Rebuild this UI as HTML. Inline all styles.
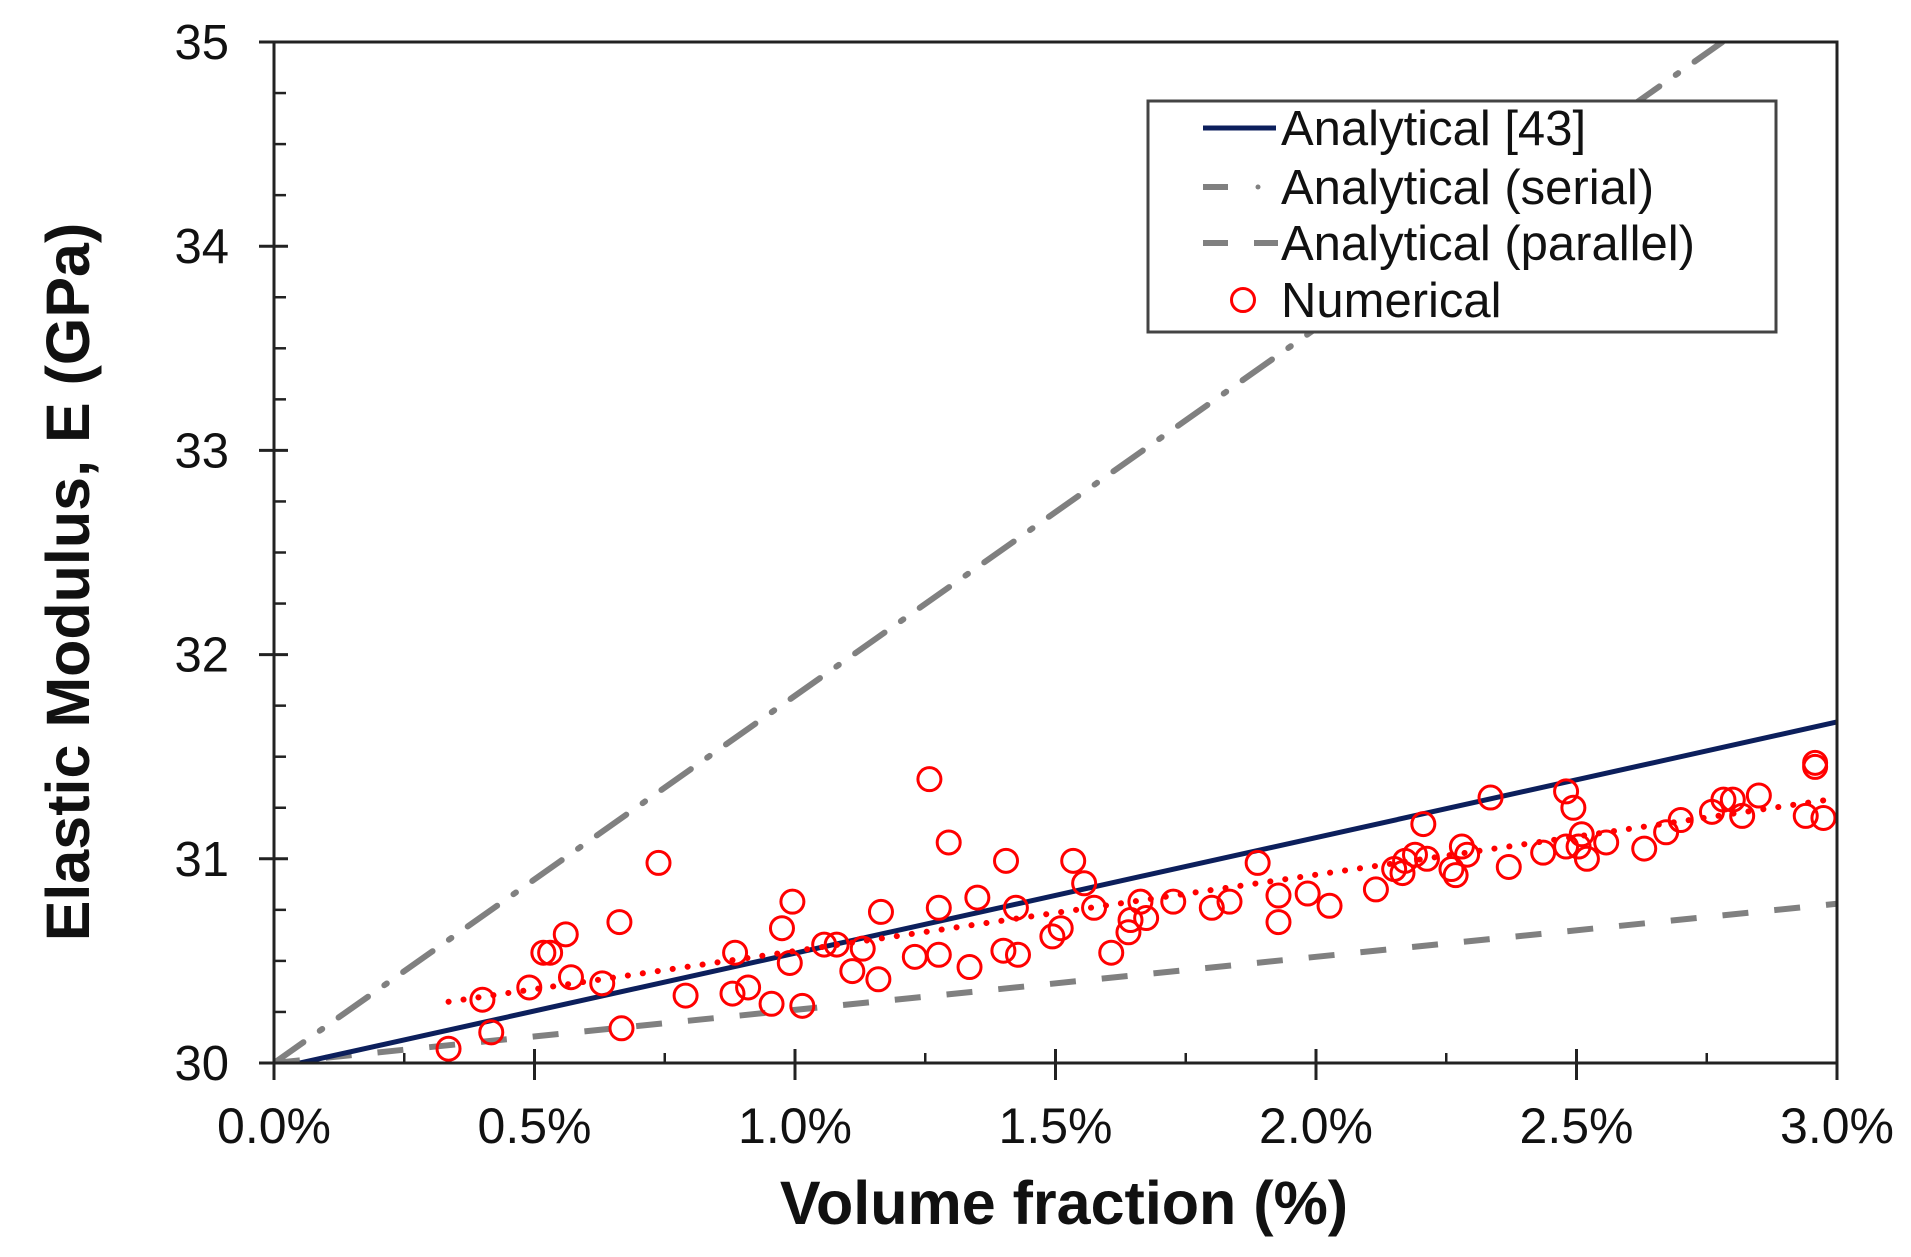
<!DOCTYPE html>
<html><head><meta charset="utf-8"><style>
html,body{margin:0;padding:0;background:#fff;}
svg{display:block;}
text{font-family:"Liberation Sans",Arial,sans-serif;}
</style></head><body>
<svg id="chart" width="1911" height="1257" viewBox="0 0 1911 1257" xmlns="http://www.w3.org/2000/svg">
<g id="plot"></g>
</svg>
<script>
const xTicks=[0,0.5,1.0,1.5,2.0,2.5,3.0];
const xTickLabels=["0.0%","0.5%","1.0%","1.5%","2.0%","2.5%","3.0%"];
const yTicks=[30,31,32,33,34,35];
const yTickLabels=["30","31","32","33","34","35"];
const numX=[0.335,0.40,0.417,0.49,0.517,0.53,0.56,0.57,0.63,0.663,0.667,0.738,0.79,0.885,0.88,0.91,0.955,0.975,0.99,0.995,1.014,1.056,1.08,1.11,1.13,1.16,1.165,1.23,1.258,1.276,1.276,1.295,1.335,1.35,1.40,1.405,1.424,1.428,1.494,1.51,1.534,1.555,1.574,1.607,1.64,1.644,1.663,1.674,1.726,1.80,1.834,1.888,1.928,1.928,1.984,2.026,2.115,2.15,2.166,2.171,2.19,2.206,2.213,2.26,2.268,2.28,2.29,2.335,2.37,2.436,2.48,2.48,2.494,2.504,2.51,2.52,2.557,2.63,2.672,2.70,2.76,2.782,2.80,2.818,2.85,2.94,2.958,2.958,2.974];
const numY=[30.07,30.31,30.15,30.37,30.54,30.54,30.63,30.42,30.39,30.69,30.17,30.98,30.33,30.54,30.34,30.37,30.29,30.66,30.49,30.79,30.28,30.58,30.58,30.45,30.56,30.41,30.74,30.52,31.39,30.76,30.53,31.08,30.47,30.81,30.55,30.99,30.76,30.53,30.62,30.66,30.99,30.88,30.76,30.54,30.64,30.70,30.79,30.71,30.79,30.76,30.79,30.98,30.82,30.69,30.83,30.77,30.85,30.95,30.93,30.99,31.02,31.17,31.00,30.95,30.92,31.06,31.02,31.30,30.96,31.03,31.33,31.06,31.25,31.06,31.12,31.00,31.08,31.05,31.13,31.19,31.23,31.29,31.29,31.21,31.31,31.21,31.45,31.47,31.20];
const analyticalX=[0.05,3.0];
const analyticalY=[30.0,31.67];
const serialX=[0.0,2.78];
const serialY=[30.0,35.0];
const parallelX=[0.0,3.0];
const parallelY=[30.0,30.78];
const trendX=[0.335,2.985];
const trendY=[30.30,31.29];

const L=274,R=1837,T=42,B=1063;
const xs=v=>L+(v-0)/(3-0)*(R-L);
const ys=v=>B-(v-30)/(35-30)*(B-T);
const NS="http://www.w3.org/2000/svg";
const g=document.getElementById('plot');
function mk(tag,attrs,parent){const e=document.createElementNS(NS,tag);for(const k in attrs)e.setAttribute(k,attrs[k]);(parent||g).appendChild(e);return e;}

const defs=mk('defs',{});
const cp=mk('clipPath',{id:'clip'},defs);
mk('rect',{x:L,y:T,width:R-L,height:B-T},cp);
const clipG=mk('g',{'clip-path':'url(#clip)'});



let fr=mk('rect',{x:L,y:T,width:R-L,height:B-T,fill:'none',stroke:'#222','stroke-width':3});



for(let v=30.25;v<35;v+=0.25){if(Math.abs(v-Math.round(v))<1e-6)continue;
 let t=mk('line',{x1:L,x2:L+12,y1:ys(v),y2:ys(v),stroke:'#222','stroke-width':2.5});
 
 }
for(let v=0.25;v<3;v+=0.25){if(Math.abs(v*2-Math.round(v*2))<1e-6)continue;
 let t=mk('line',{x1:xs(v),x2:xs(v),y1:B,y2:B-10,stroke:'#222','stroke-width':2.5});
 
 }

yTicks.forEach((v,i)=>{
 let t=mk('line',{x1:L-15,x2:L+14,y1:ys(v),y2:ys(v),stroke:'#222','stroke-width':3});
 
 
 let tx=mk('text',{x:229,y:ys(v)+17,'font-size':49,'text-anchor':'end',fill:'#111'});
 tx.textContent=yTickLabels[i];
 
 
});
xTicks.forEach((v,i)=>{
 let t=mk('line',{x1:xs(v),x2:xs(v),y1:B-14,y2:B+17,stroke:'#222','stroke-width':3});
 
 
 let tx=mk('text',{x:xs(v),y:1143,'font-size':50,'text-anchor':'middle',fill:'#111'});
 tx.textContent=xTickLabels[i];
 
 
});

let pl=mk('line',{x1:xs(parallelX[0]),y1:ys(parallelY[0]),x2:xs(parallelX[1]),y2:ys(parallelY[1]),stroke:'#808080','stroke-width':6,'stroke-dasharray':'26 26'},clipG);


let sl=mk('line',{x1:xs(serialX[0]),y1:ys(serialY[0]),x2:xs(serialX[1]),y2:ys(serialY[1]),stroke:'#808080','stroke-width':6,'stroke-dasharray':'36 20 3 20','stroke-linecap':'round'},clipG);


let al=mk('line',{x1:xs(analyticalX[0]),y1:ys(analyticalY[0]),x2:xs(analyticalX[1]),y2:ys(analyticalY[1]),stroke:'#0c1f5c','stroke-width':5},clipG);


let tl=mk('line',{x1:xs(trendX[0]),y1:ys(trendY[0]),x2:xs(trendX[1]),y2:ys(trendY[1]),stroke:'#ff0000','stroke-width':6,'stroke-dasharray':'0.1 15','stroke-linecap':'round'},clipG);


numX.forEach((x,i)=>{
 let c=mk('circle',{cx:xs(x),cy:ys(numY[i]),r:11.5,fill:'none',stroke:'#ff0000','stroke-width':3},clipG);
 
 
});

const lg=mk('g',{});


mk('rect',{x:1148,y:101,width:628,height:231,fill:'#fff',stroke:'#444','stroke-width':3},lg);
const entries=[["Analytical [43]",128],["Analytical (serial)",187],["Analytical (parallel)",243],["Numerical",300]];
entries.forEach((e,i)=>{
 const ge=mk('g',{},lg);
 
 
 const y=e[1];
 if(i==0) mk('line',{x1:1203,x2:1276,y1:y,y2:y,stroke:'#0c1f5c','stroke-width':5},ge);
 if(i==1){mk('line',{x1:1203,x2:1228,y1:y,y2:y,stroke:'#808080','stroke-width':6},ge);mk('circle',{cx:1258,cy:y,r:2.5,fill:'#808080'},ge);}
 if(i==2){mk('line',{x1:1203,x2:1228,y1:y,y2:y,stroke:'#808080','stroke-width':6},ge);mk('line',{x1:1254,x2:1278,y1:y,y2:y,stroke:'#808080','stroke-width':6},ge);}
 if(i==3) mk('circle',{cx:1243,cy:y,r:11.5,fill:'none',stroke:'#ff0000','stroke-width':3},ge);
 const t=mk('text',{x:1281,y:y+17,'font-size':49,fill:'#111'},ge);
 t.textContent=e[0];
});

let xt=mk('text',{x:1064,y:1224,'font-size':61,'font-weight':'bold','text-anchor':'middle',fill:'#111'});
xt.textContent='Volume fraction (%)';


let yt=mk('text',{x:0,y:0,'font-size':61,'font-weight':'bold','text-anchor':'middle',fill:'#111',transform:'translate(89,582) rotate(-90)'});
yt.textContent='Elastic Modulus, E (GPa)';


</script>
</body></html>
